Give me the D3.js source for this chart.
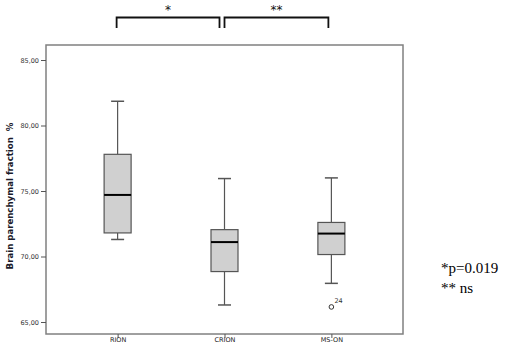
<!DOCTYPE html>
<html><head><meta charset="utf-8">
<script src="https://cdn.jsdelivr.net/npm/d3@7"></script>
<style>body{margin:0;background:#fff}svg{display:block}</style>
</head><body>
<svg id="c" width="510" height="350"></svg>
<script>
const categories = ["RION", "CRION", "MS-ON"];
const whiskerLow  = [71.3, 66.3, 67.95];
const q1          = [71.8, 68.85, 70.15];
const medians     = [74.7, 71.1, 71.75];
const q3          = [77.8, 72.05, 72.6];
const whiskerHigh = [81.85, 75.95, 76.0];
const outliers = [{cat: "MS-ON", value: 66.15, label: "24"}];
const yTicks = [65, 70, 75, 80, 85];
const yTickLabels = ["65,00", "70,00", "75,00", "80,00", "85,00"];
const comparisons = [{from: "RION", to: "CRION", mark: "*"}, {from: "CRION", to: "MS-ON", mark: "**"}];
const notes = ["*p=0.019", "** ns"];

const svg = d3.select("#c");
const L = 46, R = 403, T = 45, B = 334;
const x = d3.scalePoint().domain(categories).range([L, R]).padding(0.67);
const y = d3.scaleLinear().domain([65, 85]).range([322, 60]);

// frame
svg.append("rect").attr("x", L).attr("y", T).attr("width", R - L).attr("height", B - T)
  .attr("fill", "none").attr("stroke", "#808080").attr("stroke-width", 1.5);

// y axis
const yAxis = svg.append("g").attr("transform", `translate(${L},0)`)
  .call(d3.axisLeft(y).tickValues(yTicks).tickSize(5).tickFormat((d, i) => yTickLabels[i]));
yAxis.select(".domain").remove();
yAxis.selectAll(".tick line").attr("stroke", "#555");
yAxis.selectAll(".tick text").attr("font-family", "DejaVu Sans").attr("font-size", 6.5).attr("fill", "#333").attr("dx", 1);

// x axis
const xAxis = svg.append("g").attr("transform", `translate(0,${B})`)
  .call(d3.axisBottom(x).tickSize(4));
xAxis.select(".domain").remove();
xAxis.selectAll(".tick line").attr("stroke", "#555");
xAxis.selectAll(".tick text").attr("font-family", "DejaVu Sans").attr("font-size", 6.5).attr("fill", "#222").attr("dy", "0.2em");

// y label
svg.append("text").attr("transform", `translate(13,196) rotate(-90)`)
  .attr("text-anchor", "middle").attr("font-family", "DejaVu Sans").attr("font-weight", "bold")
  .style("white-space", "pre")
  .attr("font-size", 8.6).attr("fill", "#1a1a2a").text("Brain parenchymal fraction  %");

// boxes
const bw = 27, cw = 13;
categories.forEach((c, i) => {
  const cx = x(c);
  const g = svg.append("g");
  g.append("line").attr("x1", cx).attr("x2", cx).attr("y1", y(whiskerHigh[i])).attr("y2", y(q3[i])).attr("stroke", "#555").attr("stroke-width", 1.2);
  g.append("line").attr("x1", cx).attr("x2", cx).attr("y1", y(q1[i])).attr("y2", y(whiskerLow[i])).attr("stroke", "#555").attr("stroke-width", 1.2);
  g.append("line").attr("x1", cx - cw/2).attr("x2", cx + cw/2).attr("y1", y(whiskerHigh[i])).attr("y2", y(whiskerHigh[i])).attr("stroke", "#555").attr("stroke-width", 1.5);
  g.append("line").attr("x1", cx - cw/2).attr("x2", cx + cw/2).attr("y1", y(whiskerLow[i])).attr("y2", y(whiskerLow[i])).attr("stroke", "#555").attr("stroke-width", 1.5);
  g.append("rect").attr("x", cx - bw/2).attr("y", y(q3[i])).attr("width", bw).attr("height", y(q1[i]) - y(q3[i]))
    .attr("fill", "#d0d0d0").attr("stroke", "#555").attr("stroke-width", 1.2);
  g.append("line").attr("x1", cx - bw/2).attr("x2", cx + bw/2).attr("y1", y(medians[i])).attr("y2", y(medians[i])).attr("stroke", "#000").attr("stroke-width", 2);
});

outliers.forEach(o => {
  svg.append("circle").attr("cx", x(o.cat)).attr("cy", y(o.value)).attr("r", 2.3)
    .attr("fill", "#fff").attr("stroke", "#333").attr("stroke-width", 1);
  svg.append("text").attr("x", x(o.cat) + 3).attr("y", y(o.value) - 4)
    .attr("font-family", "DejaVu Sans").attr("font-size", 6.5).attr("fill", "#333").text(o.label);
});

// comparison brackets
comparisons.forEach((cmp, i) => {
  const x1 = x(cmp.from) + (i === 0 ? -1 : 0);
  const x2 = x(cmp.to) + (i === 0 ? -5 : -3);
  svg.append("path").attr("d", `M${x1},28V17.5H${x2}V28`).attr("fill", "none").attr("stroke", "#111").attr("stroke-width", 1.8);
  svg.append("text").attr("x", (x1 + x2) / 2).attr("y", 14).attr("text-anchor", "middle")
    .attr("font-family", "DejaVu Sans").attr("font-size", 12).attr("fill", "#111").text(cmp.mark);
});

notes.forEach((t, i) => {
  svg.append("text").attr("x", 441).attr("y", 273 + i * 20)
    .attr("font-family", "Liberation Serif").attr("font-size", 15).attr("fill", "#000").text(t);
});
</script>
</body></html>
